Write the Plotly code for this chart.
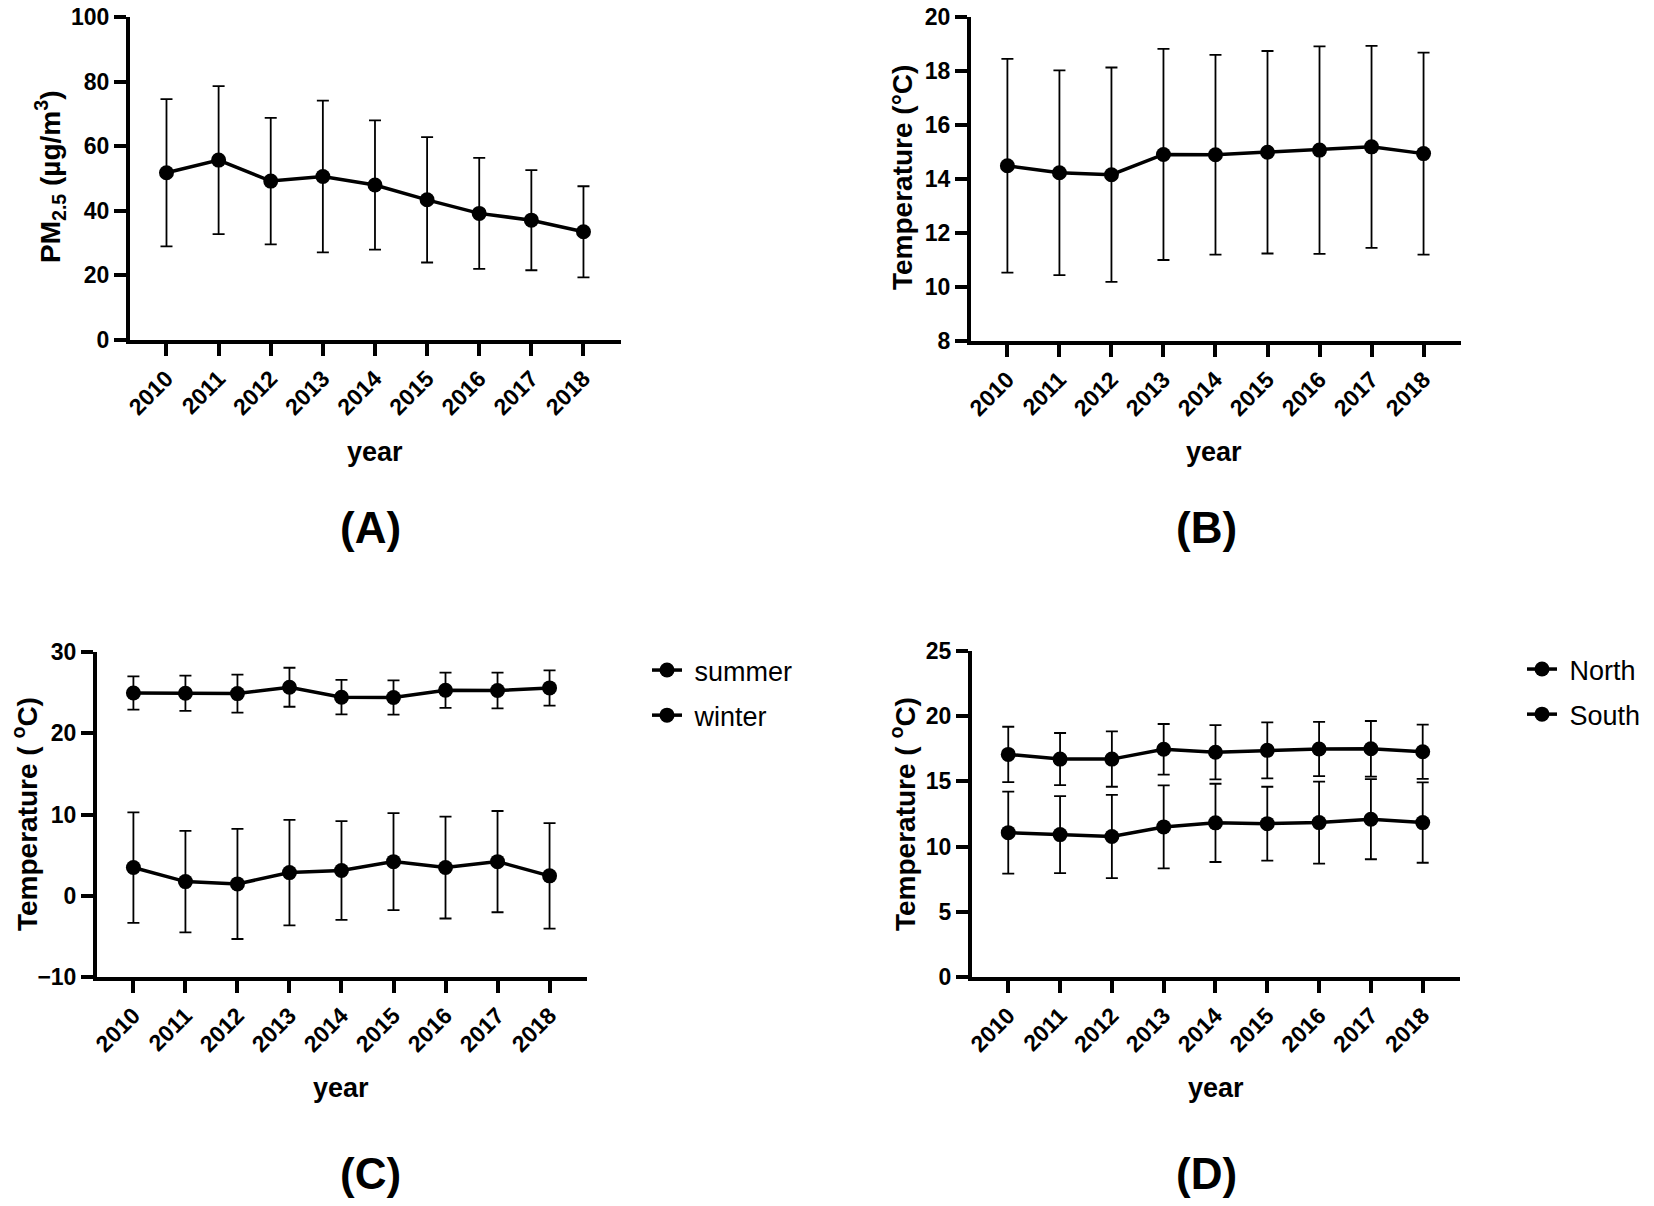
import plotly.graph_objects as go

# la pagina deja 8 px de margen: la figura se reduce y se desplaza
OFF = 8
W, H = 1654 - 2 * OFF, 1206 - 2 * OFF

# datos
years = ["2010", "2011", "2012", "2013", "2014", "2015", "2016", "2017", "2018"]

pm25_mean = [51.8, 55.7, 49.2, 50.6, 48.0, 43.4, 39.2, 37.1, 33.5]
pm25_sd = [22.8, 22.9, 19.6, 23.5, 20.0, 19.4, 17.2, 15.5, 14.1]

temp_mean = [14.49, 14.23, 14.16, 14.91, 14.90, 14.99, 15.07, 15.19, 14.94]
temp_sd = [3.96, 3.79, 3.97, 3.91, 3.70, 3.75, 3.84, 3.74, 3.74]

summer_mean = [24.96, 24.92, 24.88, 25.66, 24.44, 24.40, 25.30, 25.26, 25.58]
summer_sd = [2.05, 2.16, 2.33, 2.40, 2.12, 2.10, 2.17, 2.20, 2.17]
winter_mean = [3.47, 1.74, 1.46, 2.85, 3.10, 4.20, 3.47, 4.20, 2.45]
winter_sd = [6.80, 6.25, 6.78, 6.50, 6.08, 5.96, 6.27, 6.23, 6.50]

north_mean = [17.07, 16.71, 16.71, 17.46, 17.23, 17.38, 17.48, 17.50, 17.27]
north_sd = [2.12, 2.00, 2.12, 1.94, 2.08, 2.15, 2.08, 2.13, 2.08]
south_mean = [11.07, 10.92, 10.77, 11.51, 11.82, 11.76, 11.84, 12.10, 11.84]
south_sd = [3.15, 2.95, 3.19, 3.18, 3.00, 2.83, 3.14, 3.07, 3.08]

FONT = "Arial, Liberation Sans, sans-serif"


def px_x(v):
    return (v - OFF) / W


def px_y(v):
    return 1 - (v - OFF) / H


def serie(y, sd, xa, ya, name=None, legend=None):
    return go.Scatter(
        x=years, y=y, xaxis=xa, yaxis=ya, mode="lines+markers",
        name=None if name is None else "\u00a0" + name,
        showlegend=name is not None, legend=legend, legendgroup=name,
        line=dict(color="black", width=3.5),
        marker=dict(color="black", size=15),
        error_y=dict(type="data", array=sd, visible=True, color="black",
                     thickness=1.8, width=6),
    )


fig = go.Figure()
fig.add_trace(serie(pm25_mean, pm25_sd, "x", "y"))
fig.add_trace(serie(temp_mean, temp_sd, "x2", "y2"))
fig.add_trace(serie(summer_mean, summer_sd, "x3", "y3", "summer", "legend"))
fig.add_trace(serie(winter_mean, winter_sd, "x3", "y3", "winter", "legend"))
fig.add_trace(serie(north_mean, north_sd, "x4", "y4", "North", "legend2"))
fig.add_trace(serie(south_mean, south_sd, "x4", "y4", "South", "legend2"))

# ejes: (izq, der, arriba, abajo) en pixeles de la imagen
paneles = [
    (130, 621, 17, 340, [0, 100], 20),
    (971, 1461, 17, 341, [8, 20], 2),
    (97, 587, 652, 977, [-10, 30], 10),
    (972, 1460, 651, 977, [0, 25], 5),
]

comun = dict(showline=True, linewidth=4, linecolor="black", ticks="outside",
             ticklen=12, tickwidth=3.5, tickcolor="black", showgrid=False,
             zeroline=False, automargin=False, ticklabeloverflow="allow",
             tickfont=dict(family=FONT, size=23, color="black", weight="bold"))

layout = {}
for i, (x0, x1, y0, y1, yr, dt) in enumerate(paneles):
    s = "" if i == 0 else str(i + 1)
    layout["xaxis" + s] = dict(comun, domain=[px_x(x0), px_x(x1)], anchor="y" + s,
                               range=[-0.7, 8.72], tickangle=-45, type="category")
    layout["yaxis" + s] = dict(comun, domain=[px_y(y1), px_y(y0)], anchor="x" + s,
                               range=yr, dtick=dt)
fig.update_layout(**layout)

anots = []


def texto(t, x, y, size, angle=0):
    anots.append(dict(text=t, x=px_x(x), y=px_y(y), xref="paper", yref="paper",
                      showarrow=False, textangle=angle, xanchor="center", yanchor="middle",
                      font=dict(family=FONT, size=size, color="black", weight="bold")))


texto("PM<sub>2.5</sub> (µg/m<sup>3</sup>)", 50, 177, 28, -90)
texto("Temperature (°C)", 903, 177, 28, -90)
texto("Temperature ( <sup>o</sup>C)", 25, 814, 28, -90)
texto("Temperature ( <sup>o</sup>C)", 903, 814, 28, -90)
for x, y in [(375, 452), (1214, 452), (341, 1088), (1216, 1088)]:
    texto("year", x, y, 27)
texto("(A)", 370, 527, 44)
texto("(B)", 1206, 527, 44)
texto("(C)", 370, 1173, 44)
texto("(D)", 1206, 1173, 44)

leyenda = dict(yanchor="top", bgcolor="rgba(0,0,0,0)",
               font=dict(family=FONT, size=27, color="black"), itemwidth=30,
               tracegroupgap=7)

fig.update_layout(
    width=W, height=H, margin=dict(l=0, r=0, t=0, b=0),
    paper_bgcolor="white", plot_bgcolor="white",
    annotations=anots,
    legend=dict(leyenda, xanchor="left", x=px_x(647), y=px_y(646)),
    legend2=dict(leyenda, xanchor="right", x=1, y=px_y(645)),
)

fig.write_html("out.html")
